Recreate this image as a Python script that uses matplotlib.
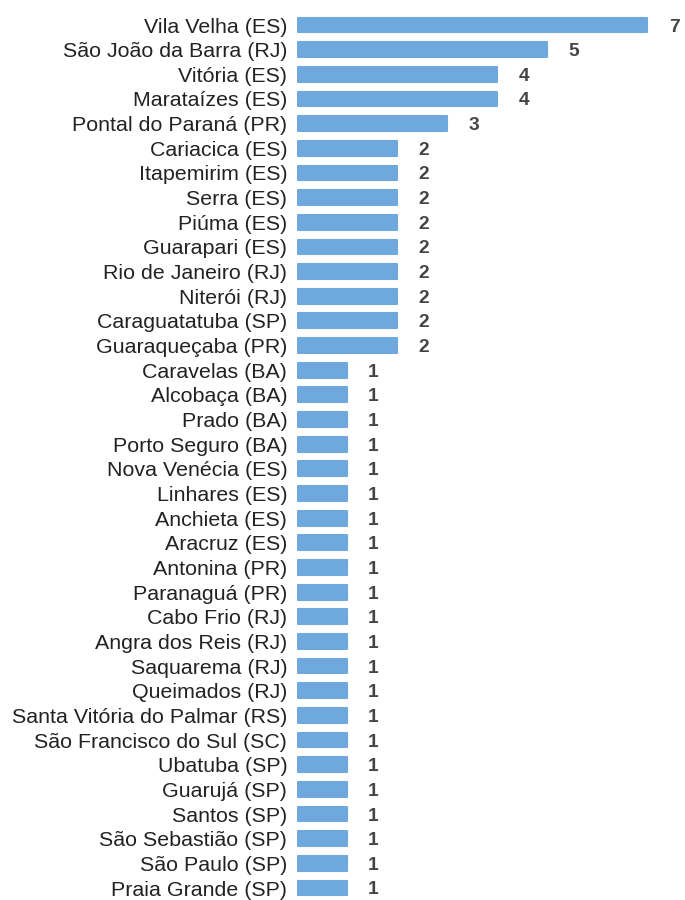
import matplotlib
matplotlib.use("Agg")
import matplotlib.pyplot as plt

categories = ["Vila Velha (ES)", "São João da Barra (RJ)", "Vitória (ES)", "Marataízes (ES)",
              "Pontal do Paraná (PR)", "Cariacica (ES)", "Itapemirim (ES)", "Serra (ES)",
              "Piúma (ES)", "Guarapari (ES)", "Rio de Janeiro (RJ)", "Niterói (RJ)",
              "Caraguatatuba (SP)", "Guaraqueçaba (PR)", "Caravelas (BA)", "Alcobaça (BA)",
              "Prado (BA)", "Porto Seguro (BA)", "Nova Venécia (ES)", "Linhares (ES)",
              "Anchieta (ES)", "Aracruz (ES)", "Antonina (PR)", "Paranaguá (PR)",
              "Cabo Frio (RJ)", "Angra dos Reis (RJ)", "Saquarema (RJ)", "Queimados (RJ)",
              "Santa Vitória do Palmar (RS)", "São Francisco do Sul (SC)", "Ubatuba (SP)",
              "Guarujá (SP)", "Santos (SP)", "São Sebastião (SP)", "São Paulo (SP)",
              "Praia Grande (SP)"]
values = [7, 5, 4, 4, 3, 2, 2, 2, 2, 2, 2, 2, 2, 2, 1, 1, 1, 1, 1, 1, 1, 1, 1, 1,
          1, 1, 1, 1, 1, 1, 1, 1, 1, 1, 1, 1]

plt.rcParams['font.family'] = ['Liberation Sans', 'DejaVu Sans']

W, H = 685, 900
fig = plt.figure(figsize=(W/100, H/100), dpi=100)
n = len(categories)
step = (888 - 25) / (n - 1)
top_px = 25 - step/2
bot_px = 888 + step/2
left_px = 297
ppu = (648 - 297) / 7.0
ax = fig.add_axes([left_px/W, 1 - bot_px/H, (W - left_px)/W, (bot_px - top_px)/H])
ax.set_xlim(0, (W - left_px)/ppu)
ax.set_ylim(n - 0.5, -0.5)

color = "#6fa8dc"
ax.barh(range(n), [v - 0.02 for v in values], left=0.01, height=0.6, color=color,
        edgecolor=color, linewidth=1.5, joinstyle='round')

for i, v in enumerate(values):
    ax.text(v + 0.42, i, str(v), ha='left', va='center_baseline', fontsize=13.8,
            fontweight='bold', color='#444444')

ax.set_yticks(range(n))
ax.set_yticklabels(categories, fontsize=15.4, color='#222222')
ax.tick_params(axis='y', length=0, pad=7)
ax.set_xticks([])
for s in ax.spines.values():
    s.set_visible(False)

fig.savefig("out.png", dpi=100)
